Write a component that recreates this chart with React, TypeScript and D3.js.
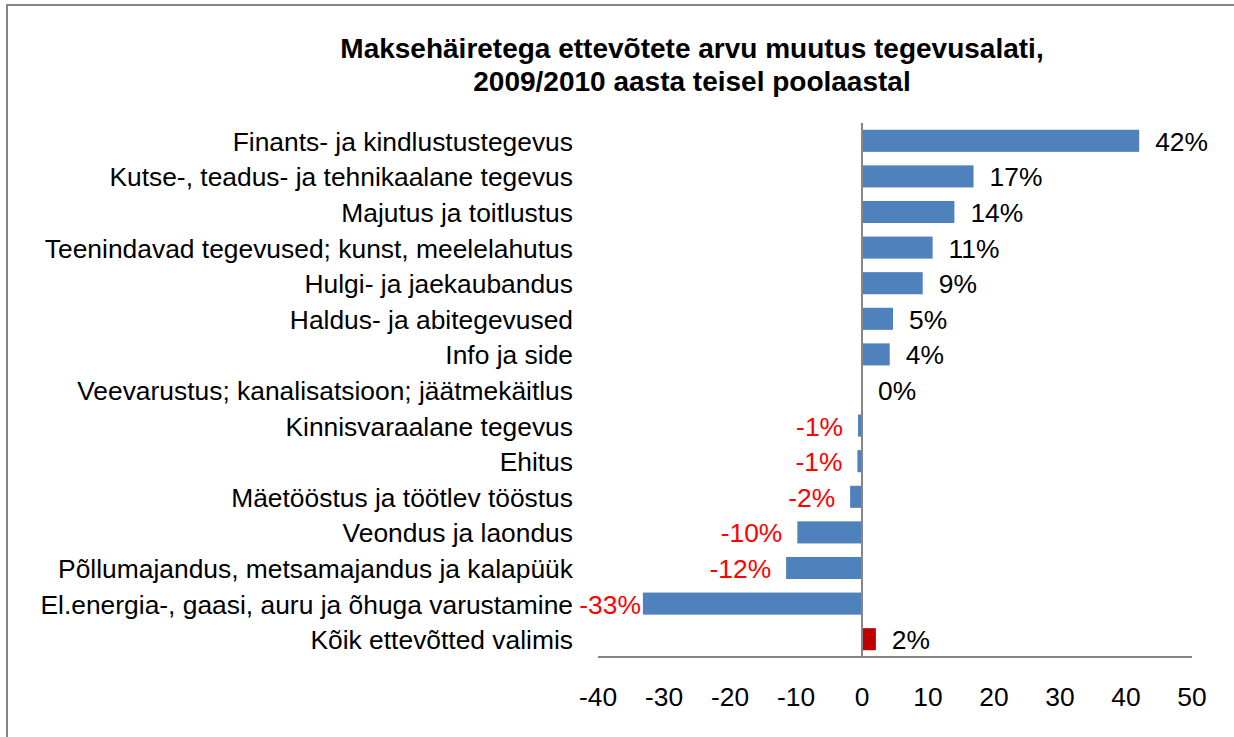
import React from "react";
import * as d3 from "d3";

const categories = [
  "Finants- ja kindlustustegevus",
  "Kutse-, teadus- ja tehnikaalane tegevus",
  "Majutus ja toitlustus",
  "Teenindavad tegevused; kunst, meelelahutus",
  "Hulgi- ja jaekaubandus",
  "Haldus- ja abitegevused",
  "Info ja side",
  "Veevarustus; kanalisatsioon; jäätmekäitlus",
  "Kinnisvaraalane tegevus",
  "Ehitus",
  "Mäetööstus ja töötlev tööstus",
  "Veondus ja laondus",
  "Põllumajandus, metsamajandus ja kalapüük",
  "El.energia-, gaasi, auru ja õhuga varustamine",
  "Kõik ettevõtted valimis",
];
const values = [42, 16.9, 14, 10.7, 9.2, 4.7, 4.2, 0, -0.6, -0.7, -1.8, -9.8, -11.5, -33.2, 2.1];
const valueLabels = ["42%", "17%", "14%", "11%", "9%", "5%", "4%", "0%", "-1%", "-1%", "-2%", "-10%", "-12%", "-33%", "2%"];
const xTicks = [-40, -30, -20, -10, 0, 10, 20, 30, 40, 50];
const titleLines = [
  "Maksehäiretega ettevõtete arvu muutus tegevusalati,",
  "2009/2010 aasta teisel poolaastal",
];

const W = 1234;
const H = 737;
const plot = { left: 598, right: 1192, top: 123, bottom: 657 };
const font = "'Liberation Sans', Arial, sans-serif";
const fs = 26.4;

export default function App() {
  const x = d3.scaleLinear().domain([-40, 50]).range([plot.left, plot.right]);
  const y = d3
    .scaleBand<string>()
    .domain(categories)
    .range([plot.top, plot.bottom])
    .paddingInner(0.38)
    .paddingOuter(0.19);
  const x0 = x(0);
  const last = categories.length - 1;

  return (
    <svg
      width={W}
      height={H}
      style={{ position: "absolute", left: 0, top: 0, background: "#fff" }}
      fontFamily={font}
    >
      <rect x={7} y={5} width={W + 10} height={H + 10} fill="#fff" stroke="#868686" strokeWidth={2} />
      {titleLines.map((t, i) => (
        <text
          key={i}
          x={692}
          y={48 + i * 33}
          textAnchor="middle"
          dominantBaseline="central"
          fontWeight="bold"
          fontSize={28}
          fill="#000"
        >
          {t}
        </text>
      ))}
      {categories.map((c, i) => {
        const v = values[i];
        const yc = (y(c) as number) + y.bandwidth() / 2;
        const x1 = x(Math.min(0, v));
        const x2 = x(Math.max(0, v));
        const neg = v < 0;
        const isTotal = i === last;
        const farNeg = neg && x(v) - 15 - 62 < 590;
        return (
          <g key={c}>
            <text
              x={573}
              y={yc + 1}
              textAnchor="end"
              dominantBaseline="central"
              fontSize={fs}
              fill="#000"
            >
              {c}
            </text>
            <rect
              x={x1}
              y={y(c)}
              width={Math.max(0, x2 - x1)}
              height={y.bandwidth()}
              fill={isTotal ? "#C00000" : "#4F81BD"}
            />
            <text
              x={neg ? x(v) - (farNeg ? 2 : 15) : x(v) + 16}
              y={yc + 1}
              textAnchor={neg ? "end" : "start"}
              dominantBaseline="central"
              fontSize={fs}
              fill={neg ? "#FF0000" : "#000"}
            >
              {valueLabels[i]}
            </text>
          </g>
        );
      })}
      <line x1={x0} x2={x0} y1={plot.top} y2={plot.bottom} stroke="#868686" strokeWidth={2} />
      <line x1={plot.left} x2={plot.right} y1={plot.bottom} y2={plot.bottom} stroke="#868686" strokeWidth={2} />
      {xTicks.map((t) => (
        <text
          key={t}
          x={x(t)}
          y={697}
          textAnchor="middle"
          dominantBaseline="central"
          fontSize={fs}
          fill="#000"
        >
          {t}
        </text>
      ))}
    </svg>
  );
}
